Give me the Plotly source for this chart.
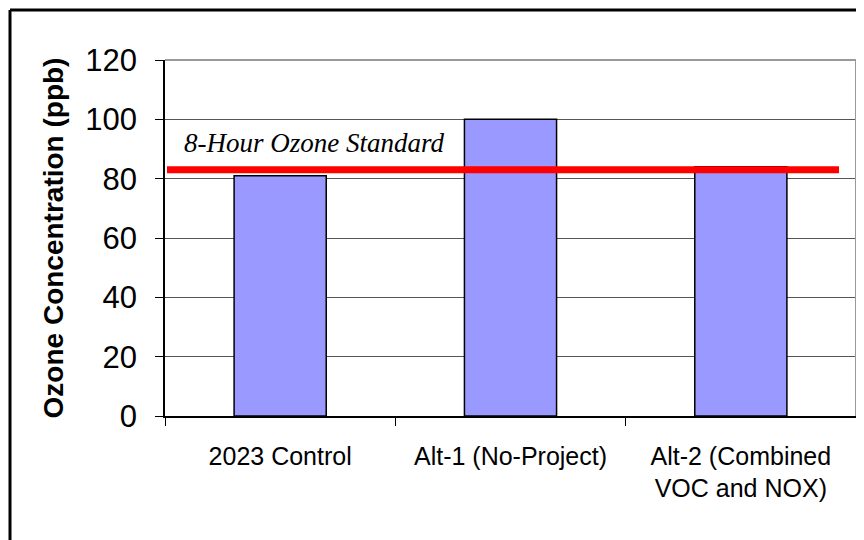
import plotly.graph_objects as go

categories = ["2023 Control", "Alt-1 (No-Project)", "Alt-2 (Combined<br>VOC and NOX)"]
ozone_ppb = [81, 100, 84]
standard_ppb = 83
standard_label = "8-Hour Ozone Standard"
y_ticks = [0, 20, 40, 60, 80, 100, 120]

# page has an 8px body margin: figure origin sits at (8, 8) of the window
OFF = 8
W, H = 864, 540
L, R, T, B = 165 - OFF, 864 - (856 - OFF), 60 - OFF, 540 - (416 - OFF)
pw, ph = W - L - R, H - T - B

def px_x(x):
    return (x - OFF - L) / pw

def px_y(y):
    return (H - B - (y - OFF)) / ph

fig = go.Figure()
fig.add_trace(go.Bar(
    x=categories, y=ozone_ppb, width=0.4,
    marker=dict(color="#9999FF", line=dict(color="black", width=1.5)),
    showlegend=False, hoverinfo="skip",
))

shapes = [
    dict(type="line", xref="paper", yref="y", x0=px_x(167), x1=px_x(839),
         y0=standard_ppb, y1=standard_ppb, line=dict(color="#FF0000", width=7), layer="above"),
    dict(type="line", xref="paper", yref="paper", x0=0, x1=1, y0=1, y1=1,
         line=dict(color="#999999", width=2), layer="above"),
    dict(type="line", xref="paper", yref="paper", x0=1, x1=1, y0=0, y1=1,
         line=dict(color="#999999", width=2), layer="above"),
    dict(type="line", xref="paper", yref="paper", x0=px_x(10), x1=px_x(880),
         y0=px_y(10), y1=px_y(10), line=dict(color="black", width=3)),
    dict(type="line", xref="paper", yref="paper", x0=px_x(10), x1=px_x(10),
         y0=px_y(10), y1=px_y(560), line=dict(color="black", width=3)),
]

fig.update_layout(
    width=W, height=H,
    margin=dict(l=L, r=R, t=T, b=B),
    paper_bgcolor="white", plot_bgcolor="white",
    font=dict(family="Liberation Sans, Arial, sans-serif", color="black"),
    shapes=shapes,
    annotations=[dict(
        text=standard_label, xref="paper", yref="paper",
        x=px_x(314), y=px_y(143), xanchor="center", yanchor="middle",
        showarrow=False,
        font=dict(family="Liberation Serif, Times New Roman, serif", size=27, color="black", style="italic"),
    )],
    xaxis=dict(
        type="category", showline=True, linecolor="black", linewidth=1.5,
        ticks="outside", ticklen=8, tickcolor="black", tickson="boundaries",
        tickfont=dict(size=25), showgrid=False, ticklabelstandoff=17,
    ),
    yaxis=dict(
        range=[0, 120], tickvals=y_ticks, showline=True, linecolor="black", linewidth=1.5,
        ticks="outside", ticklen=8, tickcolor="black", ticklabelstandoff=12,
        tickfont=dict(size=31), gridcolor="#555555", gridwidth=1,
        zeroline=False,
        title=dict(text="<b>Ozone Concentration (ppb)</b>", font=dict(size=28), standoff=14),
    ),
)

fig.write_html("out.html")
